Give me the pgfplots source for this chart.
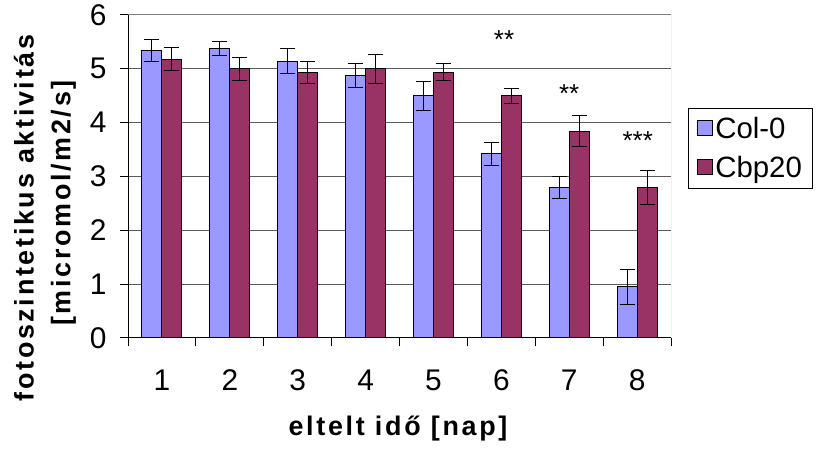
\documentclass[border=0pt]{standalone}
\usepackage{pgfplots}
\pgfplotsset{compat=1.18}
\usepackage{fontspec}
\setmainfont{Liberation Sans}
\newfontfamily\labelfont{Liberation Sans}[LetterSpace=10]
\definecolor{colzero}{HTML}{9999FF}
\definecolor{cbp}{HTML}{993366}
\begin{document}
\begin{tikzpicture}[x=1bp,y=1bp]
\useasboundingbox (0,0) rectangle (823,461);
\begin{axis}[
  at={(128bp,123bp)}, anchor=south west,
  scale only axis, width=543bp, height=323bp,
  xmin=0.5, xmax=8.5, ymin=0, ymax=6,
  ybar=0pt, bar width=20bp,
  axis x line*=bottom, axis y line*=left,
  axis line style={black, line width=1pt, -},
  tick align=outside,
  xtick={1,...,8},
  major x tick style={draw=none},
  minor xtick={0.5,1.5,...,8.5},
  minor tick length=8bp, major tick length=8bp,
  tick style={black, line width=1pt},
  ytick={0,...,6},
  ymajorgrids, grid style={black!65, line width=1pt},
  /pgf/number format/assume math mode=true,
  ticklabel style={font=\fontsize{30}{30}\selectfont},
  yticklabel style={xshift=-10bp},
  xticklabel style={yshift=-20bp},
  legend style={at={(1.031,0.712)}, anchor=north west, draw=black, line width=1pt,
    font=\fontsize{29.5}{29.5}\selectfont, inner xsep=9bp, inner ysep=7bp, row sep=12bp,
    /tikz/every even column/.append style={column sep=4bp}},
  legend cell align=left,
  legend image code/.code={\draw[#1, line width=1pt] (0bp,-7bp) rectangle (15bp,8bp);},
  error bars/y dir=both, error bars/y explicit,
  error bars/error bar style={black, line width=1pt},
  error bars/error mark options={rotate=90, mark size=7.5bp, line width=1pt, black},
]
\addplot[fill=colzero, draw=black, line width=1pt] coordinates {
  (1,5.34) +- (0,0.21)
  (2,5.37) +- (0,0.13)
  (3,5.14) +- (0,0.23)
  (4,4.87) +- (0,0.22)
  (5,4.50) +- (0,0.27)
  (6,3.42) +- (0,0.21)
  (7,2.80) +- (0,0.20)
  (8,0.95) +- (0,0.33)
};
\addplot[fill=cbp, draw=black, line width=1pt] coordinates {
  (1,5.18) +- (0,0.21)
  (2,5.00) +- (0,0.21)
  (3,4.93) +- (0,0.21)
  (4,5.00) +- (0,0.27)
  (5,4.94) +- (0,0.16)
  (6,4.50) +- (0,0.14)
  (7,3.84) +- (0,0.29)
  (8,2.80) +- (0,0.32)
};
\legend{Col-0, Cbp20}
\draw[black!50, line width=1pt] (rel axis cs:0,1) -- (rel axis cs:1,1) -- (rel axis cs:1,0);
\node[font=\fontsize{26}{26}\selectfont, yshift=-6bp] at (axis cs:6.04,5.66) {**};
\node[font=\fontsize{26}{26}\selectfont, yshift=-6bp] at (axis cs:7.0,4.65) {**};
\node[font=\fontsize{26}{26}\selectfont, yshift=-6bp] at (axis cs:8.01,3.78) {***};
\end{axis}
\node[font=\labelfont\bfseries\fontsize{27}{27}\selectfont] at (398,32.5) {eltelt idő [nap]};
\node[font=\labelfont\bfseries\fontsize{27}{27}\selectfont, rotate=90] at (24,243) {fotoszintetikus aktivitás};
\node[font=\labelfont\bfseries\fontsize{27}{27}\selectfont, rotate=90] at (63.5,258) {[micromol/m2/s]};
\end{tikzpicture}
\end{document}
